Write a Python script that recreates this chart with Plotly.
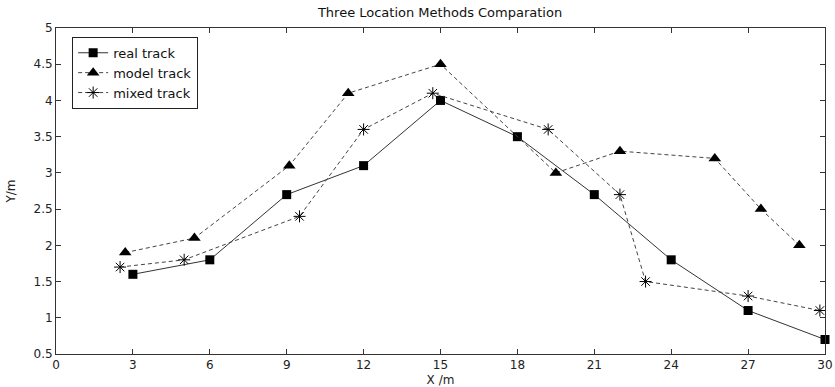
import plotly.graph_objects as go

real_x = [3, 6, 9, 12, 15, 18, 21, 24, 27, 30]
real_y = [1.6, 1.8, 2.7, 3.1, 4.0, 3.5, 2.7, 1.8, 1.1, 0.7]

model_x = [2.7, 5.4, 9.1, 11.4, 15, 19.5, 22, 25.7, 27.5, 29]
model_y = [1.9, 2.1, 3.1, 4.1, 4.5, 3.0, 3.3, 3.2, 2.5, 2.0]

mixed_x = [2.5, 5, 9.5, 12, 14.7, 19.2, 22, 23, 27, 29.8]
mixed_y = [1.7, 1.8, 2.4, 3.6, 4.1, 3.6, 2.7, 1.5, 1.3, 1.1]

x_ticks = [0, 3, 6, 9, 12, 15, 18, 21, 24, 27, 30]
y_ticks = [0.5, 1, 1.5, 2, 2.5, 3, 3.5, 4, 4.5, 5]
y_tick_text = ["0.5", "1", "1.5", "2", "2.5", "3", "3.5", "4", "4.5", "5"]

FONT = "DejaVu Sans, Liberation Sans, Arial"

fig = go.Figure()
fig.add_trace(go.Scatter(
    x=real_x, y=real_y, name="real track", mode="lines+markers",
    line=dict(color="#333333", width=1),
    marker=dict(symbol="square", size=9, color="black"),
    cliponaxis=False))
fig.add_trace(go.Scatter(
    x=model_x, y=model_y, name="model track", mode="lines+markers",
    line=dict(color="#444444", width=1, dash="4px,3px"),
    marker=dict(symbol="triangle-up", size=11, color="black"),
    cliponaxis=False))
fig.add_trace(go.Scatter(
    x=mixed_x, y=mixed_y, name="mixed track", mode="lines+markers",
    line=dict(color="#444444", width=1, dash="4px,3px"),
    marker=dict(symbol="asterisk-open", size=10, color="black",
                line=dict(color="black", width=1)),
    cliponaxis=False))

axis_common = dict(
    showgrid=False, zeroline=False, showline=True, linecolor="#333333",
    linewidth=1, mirror="ticks", ticks="inside", ticklen=5, automargin=False,
    tickcolor="#333333", tickfont=dict(family=FONT, size=12, color="#222222"),
)

fig.update_layout(
    width=835, height=387,
    margin=dict(l=56, r=10, t=28, b=33, autoexpand=False),
    paper_bgcolor="white", plot_bgcolor="white",
    title=dict(text="Three Location Methods Comparation", x=0.527, xanchor="center",
               y=0.968, yanchor="middle",
               font=dict(family=FONT, size=13, color="#111111")),
    xaxis=dict(range=[0, 30], tickvals=x_ticks, ticktext=[str(v) for v in x_ticks],
               ticklabelstandoff=0,
               title=dict(text="X /m",
                          font=dict(family=FONT, size=12, color="#222222")),
               **axis_common),
    yaxis=dict(range=[0.5, 5], tickvals=y_ticks, ticktext=y_tick_text,
               title=dict(text="Y/m",
                          font=dict(family=FONT, size=12, color="#222222")),
               **axis_common),
    legend=dict(x=0.021, y=0.973, xanchor="left", yanchor="top",
                bordercolor="#222222", borderwidth=1, bgcolor="white",
                font=dict(family=FONT, size=13, color="#111111"),
                tracegroupgap=0, itemsizing="trace"),
    showlegend=True,
)

fig.write_html("out.html",
               config={"displayModeBar": False},
               post_script="document.body.style.margin='0';document.body.style.overflow='hidden';")
